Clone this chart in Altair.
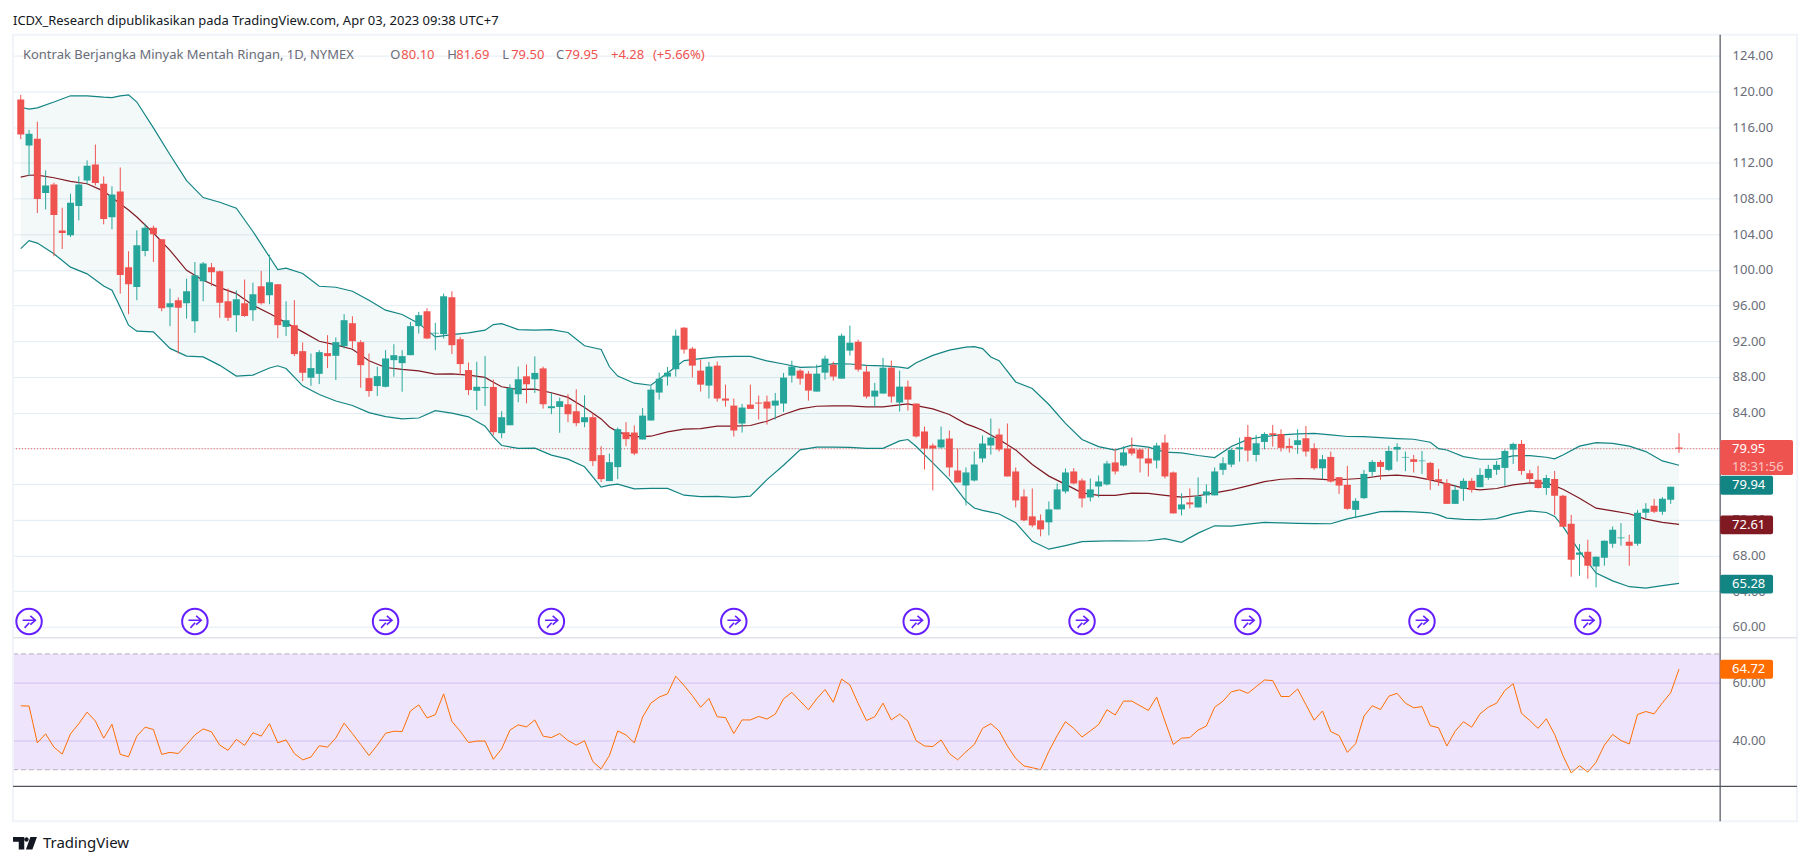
import altair as alt
import pandas as pd

FONT = "Noto Sans"
opens = [119.08,113.93,114.7,108.6,109.57,104.42,103.87,107.15,110.02,111.81,
109.65,105.88,108.79,100.29,98.09,102.11,104.72,103.42,95.81,96.6,
96.26,94.25,98.72,100.29,99.84,96.48,94.92,96.26,95.48,98.16,
97.15,98.39,93.61,93.8,90.89,87.91,88.35,90.67,90.37,91.45,
94.02,91.9,87.87,86.98,86.9,89.88,89.55,90.44,93.69,95.36,
92.87,92.79,96.93,92.23,88.77,86.45,86.75,86.88,81.7,82.59,
86.06,88.07,87.74,88.96,84.5,84.64,84.94,84.16,82.93,83.49,
79.24,76.33,77.9,81.81,81.77,80.99,83.12,86.25,88.04,88.86,
93.52,91.17,88.71,87.03,89.27,85.58,84.79,82.78,84.9,85.13,
85.24,84.79,85.02,88.15,88.71,88.37,86.36,88.48,89.38,87.81,
90.95,91.95,88.6,85.8,86.14,89.04,85.13,86.92,85.02,81.89,
80.32,80.1,81.1,77.52,75.84,76.4,78.87,80.32,81.55,79.98,
77.41,74.61,72.38,71.93,71.71,73.16,75.17,77.41,76.4,74.5,
75.73,75.96,78.42,78.08,79.98,79.87,78.87,78.64,80.65,77.3,
73.16,73.94,73.38,74.73,74.73,77.59,78.18,79.9,81.28,79.26,
80.72,81.69,81.61,80.27,80.38,81.13,80.01,77.77,79.04,76.77,
75.91,73.11,74.42,77.36,78.48,77.59,79.86,78.97,78.78,78.56,
78.37,76.54,76.1,73.78,75.46,76.36,75.65,76.69,77.59,77.81,
79.86,80.5,77.21,76.47,75.57,76.58,74.68,71.55,68.08,68.41,
66.77,67.74,69.31,69.94,69.53,69.31,72.78,73.56,72.89,74.23,
80.10]
highs = [119.6,115.69,116.6,111.14,109.76,106.96,108.53,110.47,112.26,114.04,
110.47,109.35,111.47,102.08,104.42,105.17,104.95,103.42,97.9,96.9,
99.02,100.88,100.88,100.77,99.91,97.9,97.7,98.91,98.57,99.88,
101.7,98.39,96.48,96.6,91.86,90.63,91.0,92.68,92.42,95.03,
94.8,92.12,90.63,89.14,91.0,91.67,91.0,94.17,95.29,95.7,
94.06,97.34,97.6,92.49,89.62,89.7,90.33,87.7,84.16,87.18,
89.15,89.4,90.3,89.15,86.21,85.68,86.06,86.62,85.95,83.9,
80.24,79.42,82.33,82.93,82.56,84.53,86.96,88.48,89.12,93.29,
93.59,91.36,89.94,89.68,89.72,87.14,85.58,84.98,87.14,85.91,
85.91,86.21,88.45,89.83,88.89,88.67,89.38,90.39,89.72,92.85,
93.74,92.18,89.27,87.33,90.13,89.83,88.71,87.59,85.02,82.44,
80.54,82.44,82.0,79.98,77.86,79.65,81.44,83.34,82.22,82.78,
77.86,75.4,75.51,72.6,74.05,76.07,77.75,77.78,76.63,76.63,
76.96,78.6,79.87,80.24,81.21,79.98,79.98,80.62,81.55,77.41,
74.95,75.51,76.74,75.96,77.86,79.0,80.01,81.2,82.62,81.5,
81.8,82.62,82.14,81.13,82.14,82.51,80.57,79.26,79.64,76.77,
78.03,74.42,77.59,78.7,78.7,80.27,80.57,79.64,79.26,79.71,
78.48,77.7,76.54,75.91,76.65,76.65,77.77,78.15,78.59,79.9,
80.64,80.94,77.59,78.03,77.03,77.47,74.79,72.55,69.27,69.76,
67.89,69.68,71.25,71.62,70.32,73.11,73.86,74.34,74.53,75.69,
81.69]
lows = [114.64,110.5,106.36,106.77,101.52,102.34,103.68,105.54,109.57,109.46,
105.1,104.54,97.34,95.03,96.6,101.52,100.88,95.36,93.69,90.63,
94.54,92.94,96.48,98.2,94.62,94.28,93.05,94.73,94.28,96.11,
96.15,92.34,92.6,90.33,87.53,87.01,87.2,88.99,87.65,91.19,
91.19,86.79,85.78,85.86,86.83,88.02,86.34,90.44,92.87,92.23,
91.0,92.31,90.56,88.2,85.97,84.29,84.74,81.47,81.14,82.59,
85.17,85.05,86.21,84.46,83.82,81.74,82.93,82.48,82.37,78.01,
76.22,76.33,76.55,80.24,79.24,80.99,83.12,85.46,87.03,88.04,
90.61,87.93,86.36,85.58,85.24,84.68,81.33,81.77,84.42,83.23,
82.67,83.23,84.08,87.37,87.14,85.35,86.36,87.7,87.59,87.81,
90.39,88.6,85.58,84.68,86.14,85.13,84.12,84.23,81.21,77.63,
75.29,79.98,76.85,76.18,73.61,76.29,78.42,79.3,79.65,76.85,
73.38,71.82,71.15,70.14,70.25,73.16,74.95,75.96,73.38,74.05,
74.5,75.84,77.08,77.97,79.2,77.3,76.85,77.75,76.63,72.71,
72.49,73.27,73.38,73.83,74.73,77.03,77.89,78.52,78.52,78.52,
79.9,80.2,79.64,79.53,79.38,79.08,77.59,76.54,76.17,74.9,
73.11,72.18,74.31,76.92,76.47,77.47,78.52,77.44,77.29,77.14,
75.35,75.8,73.78,73.78,74.12,75.05,75.65,76.47,77.03,75.8,
78.26,77.03,76.1,75.5,74.79,72.55,71.21,65.62,65.73,65.39,
64.42,66.85,68.86,69.09,66.85,69.09,72.18,72.74,72.55,73.78,
79.50]
closes = [115.16,115.24,107.93,109.46,106.14,104.13,107.52,109.57,111.66,109.72,
105.69,108.45,99.43,98.39,102.75,104.72,104.0,95.7,96.26,95.74,
97.6,99.39,100.7,99.73,96.3,94.62,96.71,94.84,97.27,96.26,
98.61,93.8,94.36,90.56,88.47,88.99,90.78,90.33,91.9,94.36,
92.01,89.32,86.42,88.09,90.07,90.44,90.33,93.69,94.92,92.31,
92.95,97.04,91.56,89.44,86.53,86.9,86.87,81.81,83.49,86.77,
87.74,87.18,88.45,84.94,84.72,85.28,83.82,82.82,83.49,78.57,
76.55,78.45,82.15,81.03,79.42,83.67,86.58,87.81,88.48,92.62,
91.06,89.27,87.14,89.16,85.58,85.35,82.0,84.57,84.42,85.02,
84.46,85.35,87.93,89.16,87.81,86.47,88.37,90.05,88.04,92.62,
91.84,88.82,85.8,86.47,89.04,85.8,86.92,85.46,81.33,79.98,
79.98,80.99,77.86,76.18,77.3,78.19,80.54,81.21,79.87,76.85,
74.17,71.93,71.37,70.92,73.16,75.4,77.3,76.07,74.39,75.4,
76.29,78.31,77.41,79.54,79.42,78.87,78.31,80.32,76.85,72.71,
73.72,73.72,74.61,75.17,77.41,78.33,79.82,80.12,79.75,80.57,
81.61,81.5,80.05,80.05,80.91,79.64,77.77,78.78,76.28,75.83,
73.22,74.12,77.14,78.48,77.92,79.71,80.16,79.04,78.48,78.63,
76.47,76.28,73.78,75.35,76.36,75.35,77.03,77.7,78.15,79.71,
80.5,77.47,76.58,75.57,76.69,74.68,71.21,67.52,68.34,66.85,
67.86,69.65,70.88,70.02,69.09,72.78,73.22,72.89,74.34,75.69,
79.95]
rsi = [52.07,52,39.3,42.4,37.8,35.4,42.4,45.9,49.9,46.8,
40.9,45.7,35.3,34.5,41.6,44.7,43.9,35.3,36,35.6,
38.7,42,44.1,43.1,38.5,36.7,40.5,38.4,42.8,41.6,
45.9,39.3,40.3,35.6,33.4,34.4,38.3,37.8,41,46.1,
42.5,38.7,34.9,38.5,42.6,43.3,43.2,50.3,52.4,47.9,
49,56.2,46.7,43.3,39.4,39.9,39.9,33.6,37.2,43.7,
45.5,44.8,47.2,41.6,41.1,42.5,40.1,38.5,40,32.8,
30.3,34.9,43.4,42,39.3,48.2,53,55.1,56.2,62.3,
59.1,55.6,51.6,54.6,48.3,48,42.5,47.2,47.2,48.4,
47.5,49.2,54.5,56.7,53.7,50.7,54.5,57.7,53.3,61.3,
59.3,52.9,47,48.3,53,47.2,49.2,46.8,40,38.2,
38,40.3,35.6,33.4,36.2,38.7,44.3,45.9,43.4,38.2,
33.9,31.3,30.7,30,36.4,41.8,46.6,44.3,41.3,43.4,
45.6,50.7,48.9,53.7,53.7,52.1,50.5,55.1,46.8,38.7,
40.9,41.1,43.7,45.1,51.6,53.7,56.9,57.6,56.4,58.7,
61,60.8,55.3,55.3,57.9,52.5,47.1,50.3,43.2,41.8,
36,39,48.5,52.1,50.8,55.4,56.4,53,51.4,51.8,
45.2,44.5,38.2,43.3,46.6,44.7,49.3,51.6,53,57.4,
59.7,49.5,47,44.3,47.6,42.2,34.9,28.9,31.4,29.2,
32.6,38.5,42.2,40.1,38.9,49.1,50.1,49.3,53.1,56.6,
64.72]
band_idx = [0,1,2,4,6,8,10,11,12,13,14,16,18,20,22,24,26,28,30,31,32,34,36,38,40,42,44,46,48,50,
52,54,56,57,58,60,62,64,66,68,70,71,72,74,76,78,80,82,84,86,88,90,92,94,96,98,100,102,104,106,
107,108,110,112,114,115,116,117,118,120,122,124,126,128,130,132,134,136,138,140,142,144,146,148,150,
152,154,156,158,160,162,164,166,168,170,171,172,174,176,178,180,182,184,185,186,188,190,192,194,196,198,200]
band_upper = [118.22,118.0,118.15,118.8,119.5,119.5,119.35,119.3,119.5,119.6,118.8,115.9,112.9,110.0,108.1,107.57,106.9,104.3,101.44,100.03,100.2,99.6,98.16,98.05,97.6,96.6,95.48,95.0,94.0,92.49,
92.75,92.94,93.24,93.87,93.98,93.3,93.25,93.31,92.98,91.49,91.08,89.14,88.1,87.3,87.07,88.45,89.83,90.05,90.24,90.3,90.3,89.8,89.45,89.08,89.12,89.49,89.45,89.3,89.25,89.1,
88.97,89.6,90.42,91.0,91.35,91.39,91.17,90.24,89.83,87.44,86.7,84.91,82.8,81.0,80.2,79.8,80.35,80.13,79.57,79.5,79.2,78.97,80.2,81.0,81.33,
81.5,81.62,81.67,81.5,81.33,81.32,81.2,81.1,81.02,80.68,79.97,79.82,79.08,78.78,78.78,79.15,79.19,79.0,78.82,79.26,80.25,80.64,80.55,80.25,79.64,78.59,78.11]
band_lower = [102.37,103.27,103.0,101.8,100.3,99.55,98.2,97.71,95.8,93.8,93.13,93.05,91.2,90.33,90.25,89.3,88.1,88.2,89.0,89.25,88.95,87.0,86.04,85.3,84.8,84.0,83.55,83.3,83.4,84.22,
83.95,83.53,82.48,81.29,80.32,80.0,80.02,79.24,78.79,77.93,75.66,75.88,76.0,75.47,75.51,75.51,74.75,74.6,74.62,74.5,74.65,76.5,78.1,79.83,80.13,80.13,80.1,80.0,80.0,80.84,
80.99,80.21,78.38,76.5,74.09,73.31,73.05,72.86,72.65,71.67,69.58,68.7,69.1,69.54,69.6,69.65,69.62,69.65,69.88,69.47,70.5,71.32,71.29,71.5,71.7,
71.65,71.6,71.57,71.55,72.1,72.5,72.9,72.93,72.88,72.78,72.55,72.18,72.05,72.0,72.12,72.65,73.0,72.81,72.37,71.25,68.45,66.03,65.15,64.5,64.35,64.61,64.87]
band_basis = [110.39,110.6,110.61,110.32,109.91,109.65,108.82,108.1,107.41,106.7,105.92,104.13,102.19,99.95,98.83,98.01,97.34,96.04,95.1,94.6,94.06,93.05,92.0,91.6,91.11,89.81,89.06,88.84,88.69,88.32,
88.35,88.21,87.95,87.4,86.9,86.6,86.64,86.23,85.71,84.59,83.3,82.4,81.85,81.29,81.36,81.85,82.15,82.22,82.48,82.48,82.56,83.04,83.79,84.42,84.72,84.76,84.76,84.64,84.64,84.87,
84.98,84.79,84.42,83.79,82.74,82.4,82.03,81.5,80.99,79.83,78.19,76.89,75.96,75.02,74.73,74.73,74.99,74.95,74.73,74.54,74.69,75.02,75.35,75.8,76.28,
76.54,76.62,76.58,76.47,76.54,76.65,76.92,76.99,76.84,76.47,76.25,76.02,75.54,75.35,75.5,75.91,76.13,76.1,75.8,75.42,74.42,73.3,73.0,72.67,72.07,71.7,71.48]
price_ticks = [124,120,116,112,108,104,100,96,92,88,84,80,76,72,68,64,60]
rsi_ticks = [60,40]
month_idx = [11,31,54,75,96,117,138,158,177,200]
month_labels = ["Jul","Agst","Sep","Okt","Nov","Des","2023","Feb","Mar","Apr"]
event_idx = [1,21,44,64,86,108,128,148,169,189]
event_price = [60.6]*10
last_price = [79.95]
rsi_limits = [30,70]
header_text = ["Kontrak Berjangka Minyak Mentah Ringan, 1D, NYMEX","O","80.10","H","81.69","L","79.50","C","79.95","+4.28","(+5.66%)"]
header_x = [10,378,389,435,444,490,499,544,553,599,641]
header_red = [0,0,1,0,1,0,1,0,1,1,1]

PRICE_DOM = [58.79,126.35]
RSI_DOM = [24.24,75.62]
X_DOM = [-0.335,204.36]
PW, PH = 1710, 753
GRID = "#e3ecf2"; UP="#26a69a"; DN="#ef5350"; BAND="#138484"; BASIS="#801922"; TXT="#6a6d78"

xs = alt.Scale(domain=X_DOM, nice=False, zero=False)
ps = alt.Scale(domain=PRICE_DOM, range=[604,0], nice=False, zero=False)
rs = alt.Scale(domain=RSI_DOM, range=[753,604], nice=False, zero=False)
X = lambda f: alt.X(f, scale=xs, axis=None, title=None)
PY = lambda f: alt.Y(f, scale=ps, axis=None, title=None)
RY = lambda f: alt.Y(f, scale=rs, axis=None, title=None)

n = len(opens)
candles = pd.DataFrame({"i":range(n),"o":opens,"h":highs,"l":lows,"c":closes})
candles["dir"] = ["up" if c>=o else "dn" for o,c in zip(opens,closes)]
bands = pd.DataFrame({"i":band_idx,"u":band_upper,"l":band_lower,"b":band_basis})
rsi_df = pd.DataFrame({"i":range(len(rsi)),"r":rsi})
one = pd.DataFrame({"a":[0]})
col = alt.Color("dir:N", scale=alt.Scale(domain=["up","dn"], range=[UP,DN]), legend=None)

label_map = "{" + ",".join(f"'{i}':'{t}'" for i,t in zip(month_idx,month_labels)) + "}"
x_axis = alt.Axis(values=month_idx, labelExpr=label_map+"[datum.value]", grid=True, gridColor=GRID, gridWidth=1,
    domain=False, ticks=False, labelPadding=11, labelFont=FONT, labelFontSize=13, labelColor=TXT, labelOverlap=False,
    labelFontWeight=alt.ExprRef("datum.value==138?'bold':'normal'"), title=None)
price_axis = alt.Axis(orient="right", values=price_ticks, format=".2f", grid=True, gridColor=GRID, gridWidth=1, domain=False, ticks=False,
    labelPadding=12, labelFont=FONT, labelFontSize=13, labelColor=TXT, title=None)
rsi_axis = alt.Axis(orient="right", values=rsi_ticks, format=".2f", grid=True, gridColor="#e0d6f4", gridWidth=1, domain=False, ticks=False,
    labelPadding=12, labelFont=FONT, labelFontSize=13, labelColor=TXT, title=None)

def hrule(xa, xb, y, color, w=1):
    return alt.Chart(one).mark_rule(color=color, strokeWidth=w).encode(x=alt.value(xa), x2=alt.value(xb), y=alt.value(y))
def vrule(x, ya, yb, color, w=1):
    return alt.Chart(one).mark_rule(color=color, strokeWidth=w).encode(x=alt.value(x), y=alt.value(ya), y2=alt.value(yb))
def txt(x, y, s, color, size=13, align="left", weight="normal", font=FONT, opacity=1):
    return alt.Chart(one).mark_text(align=align, baseline="middle", font=font, fontSize=size, color=color, fontWeight=weight, opacity=opacity).encode(
        x=alt.value(x), y=alt.value(y), text=alt.value(s))

axes_p = alt.Chart(pd.DataFrame({"v":last_price})).mark_rule(color=DN, strokeWidth=1, strokeDash=[1,2]).encode(
    x=alt.value(0), x2=alt.value(PW), y=alt.Y("v:Q", scale=ps, axis=price_axis, title=None))
axes_x = alt.Chart(rsi_df).mark_line(color="#ff6d00", strokeWidth=1, clip=True).encode(
    x=alt.X("i:Q", scale=xs, axis=x_axis, title=None), y=alt.Y("r:Q", scale=rs, axis=rsi_axis, title=None))
rsi_rect = alt.Chart(pd.DataFrame({"a":[rsi_limits[0]],"b":[rsi_limits[1]]})).mark_rect(color="#5500ee", opacity=0.1).encode(
    x=alt.value(0), x2=alt.value(PW), y=RY("a:Q"), y2="b:Q")
rsi_lines = alt.Chart(pd.DataFrame({"v":rsi_limits})).mark_rule(color="#b4b0bc", strokeWidth=1, strokeDash=[5,3]).encode(
    x=alt.value(0), x2=alt.value(PW), y=RY("v:Q"))
fill = alt.Chart(bands).mark_area(color=BAND, opacity=0.05).encode(x=X("i:Q"), y=PY("u:Q"), y2="l:Q")
upper = alt.Chart(bands).mark_line(color=BAND, strokeWidth=1.2, clip=True).encode(x=X("i:Q"), y=PY("u:Q"))
lower = alt.Chart(bands).mark_line(color=BAND, strokeWidth=1.2, clip=True).encode(x=X("i:Q"), y=PY("l:Q"))
basis = alt.Chart(bands).mark_line(color=BASIS, strokeWidth=1.2, clip=True).encode(x=X("i:Q"), y=PY("b:Q"))
wicks = alt.Chart(candles).mark_rule(strokeWidth=1, clip=True).encode(x=X("i:Q"), y=PY("l:Q"), y2="h:Q", color=col)
bodies = alt.Chart(candles).mark_bar(size=7, clip=True).encode(x=X("i:Q"), y=PY("o:Q"), y2="c:Q", color=col)

ev = pd.DataFrame({"i":event_idx,"v":event_price})
ev_c = alt.Chart(ev).mark_point(shape="circle", size=650, filled=True, fill="white", stroke="#651fff", strokeWidth=2, opacity=1).encode(x=X("i:Q"), y=PY("v:Q"))
ev_a = alt.Chart(ev).mark_point(shape="M-0.5,-0.1 H0.5 M0.1,-0.45 L0.5,-0.1 L0.1,0.25 M-0.35,0.5 L0.02,0.1", size=650, filled=False, stroke="#651fff", strokeWidth=1.6, opacity=1).encode(x=X("i:Q"), y=PY("v:Q"))

def price_box(a, b, color, xb=1763):
    return alt.Chart(pd.DataFrame({"a":[a],"b":[b]})).mark_rect(color=color, cornerRadius=2).encode(x=alt.value(PW), x2=alt.value(xb), y=PY("a:Q"), y2="b:Q")
def price_text(v, s, color="white"):
    return alt.Chart(pd.DataFrame({"v":[v]})).mark_text(align="left", baseline="middle", font=FONT, fontSize=13, color=color).encode(x=alt.value(1722), y=PY("v:Q"), text=alt.value(s))
boxes = [price_box(80.93,77.02,DN,1783), price_text(79.95,"79.95"), price_text(77.95,"18:31:56","#fbc4c2"),
    price_box(76.93,74.81,BAND), price_text(75.87,"79.94"),
    price_box(72.49,70.37,BASIS), price_text(71.43,"72.61"),
    price_box(65.85,63.73,BAND), price_text(64.79,"65.28")]
rsi_box = alt.Chart(pd.DataFrame({"a":[68.0],"b":[61.44]})).mark_rect(color="#ff6d00", cornerRadius=2).encode(x=alt.value(PW), x2=alt.value(1763), y=RY("a:Q"), y2="b:Q")
rsi_val = alt.Chart(pd.DataFrame({"v":[64.72]})).mark_text(align="left", baseline="middle", font=FONT, fontSize=13, color="white").encode(x=alt.value(1722), y=RY("v:Q"), text=alt.value("64.72"))

frame = [hrule(-1,1788,0,"#f0f3fa",2), hrule(-1,1788,788,"#f0f3fa",2), vrule(0,0,788,"#f0f3fa",2), vrule(1787,0,788,"#f0f3fa",2),
    hrule(0,1787,604,"#e0e3eb",1.5), hrule(0,1787,753,"#50535e",1.2), vrule(1710,0,788,"#50535e",1.2)]
headers = [txt(x,20,t,DN if r else TXT) for t,x,r in zip(header_text,header_x,header_red)]
title = txt(0,-14,"ICDX_Research dipublikasikan pada TradingView.com, Apr 03, 2023 09:38 UTC+7","#131722",13)
logo = alt.Chart(one).mark_point(shape="M-1,-0.52 H-0.06 V0.52 H-0.52 V-0.14 H-1 Z M-0.05,-0.32 A0.18,0.18 0 1 0 0.31,-0.32 A0.18,0.18 0 1 0 -0.05,-0.32 Z M0.45,-0.52 H1 L0.62,0.52 H0.08 Z",
    size=576, filled=True, fill="#131722", stroke=None, opacity=1).encode(x=alt.value(12), y=alt.value(810))
logo_t = txt(30,810,"TradingView","#131722",15)

chart = alt.layer(rsi_rect, axes_x, rsi_lines, axes_p, fill, upper, lower, basis, wicks, bodies, ev_c, ev_a,
    *frame, *boxes, rsi_box, rsi_val, *headers, title, logo, logo_t).resolve_scale(y="independent").properties(
    width=PW, height=PH, autosize=alt.AutoSizeParams(type="none"),
    padding={"left":5,"top":26,"right":85,"bottom":70}).configure_view(stroke=None)
chart.save("out.html", embed_options={"renderer":"svg","actions":False})
